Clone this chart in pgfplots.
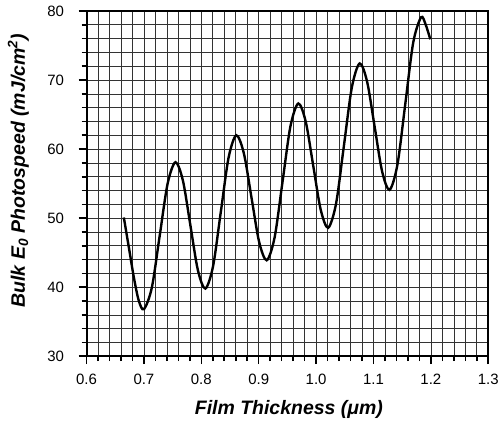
\documentclass[border=0pt]{standalone}
\usepackage{fontspec}
\setmainfont{Liberation Sans}
\usepackage{pgfplots}
\pgfplotsset{compat=1.18}
\begin{document}
\begin{tikzpicture}
\begin{axis}[
  scale only axis, width=402.6pt, height=346pt,
  xmin=0.6, xmax=1.3, ymin=30, ymax=80,
  xtick={0.6,0.7,0.8,0.9,1.0,1.1,1.2,1.3},
  ytick={30,40,50,60,70,80},
  minor x tick num=4, minor y tick num=4,
  grid=both,
  grid style={black!80, line width=0.6pt},
  tick align=outside, tick pos=left,
  major tick length=8pt, minor tick length=5pt,
  every tick/.append style={black, line width=1.6pt},
  axis line style={line width=2pt},
  /pgf/number format/assume math mode=true,
  xticklabel style={yshift=-6pt, /pgf/number format/.cd, fixed, fixed zerofill, precision=1},
  yticklabel style={xshift=-11pt},
  ticklabel style={font=\fontsize{15}{17}\selectfont},
  xlabel={Film Thickness (μm)},
  ylabel={Bulk E\textsubscript{0} Photospeed (mJ/cm\textsuperscript{2})},
  label style={font=\fontsize{19.5}{22}\selectfont\bfseries\itshape},
  xlabel style={at={(axis description cs:0.5037,-0.1676)}, anchor=base},
  ylabel style={at={(axis description cs:-0.1533,0.5376)}, anchor=base, rotate=0},
]
\addplot[black, line width=2.4pt, smooth] coordinates {
(0.665,50.1) (0.674,45.65) (0.6825,41.4) (0.691,38.07) (0.700,36.8)
(0.71375,39.92) (0.7275,47.45) (0.74125,54.98) (0.755,58.1)
(0.768,55.42) (0.781,48.95) (0.794,42.48) (0.807,39.8)
(0.8205,43.05) (0.834,50.9) (0.8475,58.75) (0.861,62.0)
(0.87425,59.35) (0.8875,52.95) (0.90075,46.55) (0.914,43.9)
(0.92775,47.22) (0.9415,55.25) (0.95525,63.28) (0.969,66.6)
(0.982,63.96) (0.995,57.6) (1.008,51.24) (1.021,48.6)
(1.03475,52.08) (1.0485,60.5) (1.06225,68.92) (1.076,72.4)
(1.089,69.72) (1.102,63.25) (1.115,56.78) (1.128,54.1)
(1.14175,57.76) (1.1555,66.6) (1.16925,75.44) (1.183,79.1)
(1.191,78.0) (1.199,75.9)
};
\end{axis}
\path (current axis.south west) ++(-86.7pt,-67pt);
\path (current axis.north east) ++(12.7pt,11pt);
\end{tikzpicture}
\end{document}
